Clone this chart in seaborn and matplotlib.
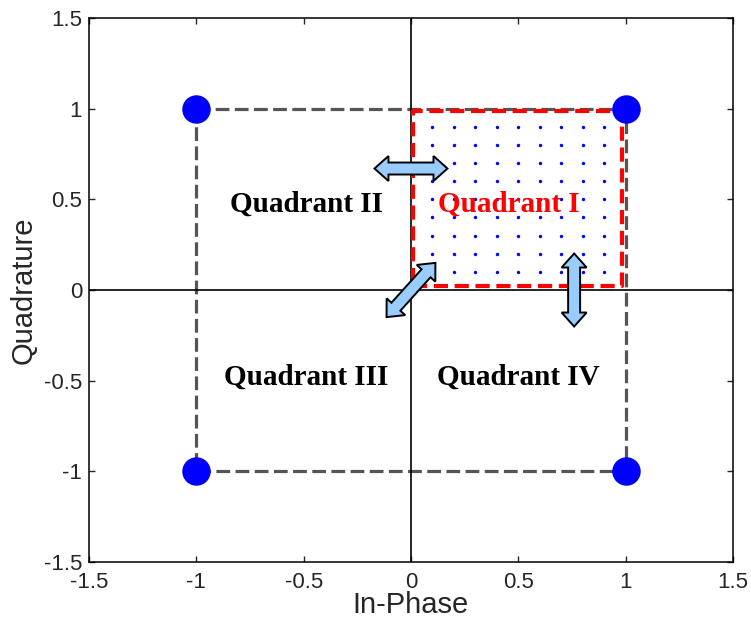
import numpy as np
import pandas as pd
import matplotlib
matplotlib.use("Agg")
import matplotlib.pyplot as plt
import matplotlib.patches as mpatches
import matplotlib.transforms as mtrans
import seaborn as sns

# ---- data ----
corner_i = [-1, 1, 1, -1]
corner_q = [1, 1, -1, -1]
outer_x = [-1, 1, 1, -1, -1]
outer_y = [1, 1, -1, -1, 1]
inner_x = [0.01, 0.985, 0.985, 0.01, 0.01]
inner_y = [0.02, 0.02, 0.985, 0.985, 0.02]
grid_vals = [0.1, 0.2, 0.3, 0.4, 0.5, 0.6, 0.7, 0.8, 0.9]
tick_vals = [-1.5, -1, -0.5, 0, 0.5, 1, 1.5]
tick_labels = ["-1.5", "-1", "-0.5", "0", "0.5", "1", "1.5"]
quad_labels = ["Quadrant I", "Quadrant II", "Quadrant III", "Quadrant IV"]
quad_x = [0.458, -0.486, -0.49, 0.50]
quad_y = [0.43, 0.43, -0.52, -0.52]
quad_colors = ["#ff0000", "black", "black", "black"]
arrow_cx = [0.0, 0.0, 0.76]
arrow_cy = [0.67, 0.0, 0.0]
arrow_angle = [0, 48, 90]

sns.set_style("ticks")
plt.rcParams["font.family"] = ["Liberation Sans", "DejaVu Sans"]
plt.rcParams["axes.unicode_minus"] = False

fig = plt.figure(figsize=(7.51, 6.23), dpi=100)
ax = fig.add_axes([0.1185, 0.0979, 0.8575, 0.8732])

# outer gray dashed square
sns.lineplot(x=outer_x, y=outer_y, sort=False, estimator=None, ax=ax,
             color="#555555", lw=2.3, zorder=2)
ax.lines[-1].set_dashes([4.3, 1.7])

# axis lines through origin
ax.axhline(0, color="black", lw=1.2, zorder=3)
ax.axvline(0, color="black", lw=1.2, zorder=3)

# red dashed square
sns.lineplot(x=inner_x, y=inner_y, sort=False, estimator=None, ax=ax,
             color="#ff0000", lw=3.0, zorder=4)
ax.lines[-1].set_dashes([3.4, 1.6])

# dot grid in quadrant I
gx, gy = np.meshgrid(grid_vals, grid_vals)
dots = pd.DataFrame({"i": gx.ravel(), "q": gy.ravel()})
sns.scatterplot(data=dots, x="i", y="q", ax=ax, color="#0000ff", s=6,
                linewidth=0, zorder=5)

# constellation points
sns.scatterplot(x=corner_i, y=corner_q, ax=ax, color="#0000ff", s=420,
                linewidth=0, zorder=6)

# quadrant labels
for lab, x, y, c in zip(quad_labels, quad_x, quad_y, quad_colors):
    ax.text(x, y, lab, color=c, fontsize=21, fontweight="bold",
            family=["Liberation Serif", "DejaVu Serif"], ha="center",
            va="baseline", zorder=7)

# double arrows (shape in pixels)
L, w, hw, hl = 73, 6, 12.5, 14
shape = np.array([
    (-L / 2, 0), (-L / 2 + hl, hw), (-L / 2 + hl, w), (L / 2 - hl, w),
    (L / 2 - hl, hw), (L / 2, 0), (L / 2 - hl, -hw), (L / 2 - hl, -w),
    (-L / 2 + hl, -w), (-L / 2 + hl, -hw)]) / fig.dpi
for cx, cy, ang in zip(arrow_cx, arrow_cy, arrow_angle):
    tr = (mtrans.Affine2D().rotate_deg(ang) + fig.dpi_scale_trans +
          mtrans.ScaledTranslation(cx, cy, ax.transData))
    poly = mpatches.Polygon(shape, closed=True, transform=tr,
                            facecolor="#99ccff", edgecolor="black",
                            lw=1.4, zorder=8)
    ax.add_patch(poly)

ax.set_xlim(-1.5, 1.5)
ax.set_ylim(-1.5, 1.5)
ax.set_xticks(tick_vals)
ax.set_xticklabels(tick_labels)
ax.set_yticks(tick_vals)
ax.set_yticklabels(tick_labels)
ax.tick_params(direction="in", top=True, right=True, length=4.5, width=1,
               labelsize=16, pad=5)
ax.tick_params(axis="x", pad=7)
for sp in ax.spines.values():
    sp.set_visible(True)
    sp.set_linewidth(1.1)
    sp.set_color("black")
ax.set_xlabel("In-Phase", fontsize=21, labelpad=-1)
ax.set_ylabel("Quadrature", fontsize=21, labelpad=4)

fig.savefig("out.png", dpi=100)
